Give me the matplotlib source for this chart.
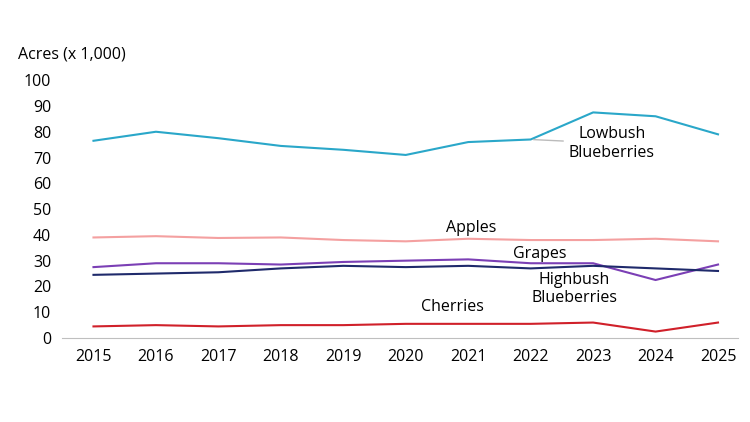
import matplotlib
matplotlib.use('Agg')
import matplotlib.pyplot as plt

years = list(range(2015, 2026))
lowbush = [76.5, 80, 77.5, 74.5, 73, 71, 76, 77, 87.5, 86, 79]
apples = [39, 39.5, 38.8, 39, 38, 37.5, 38.5, 38, 38, 38.5, 37.5]
grapes = [27.5, 29, 29, 28.5, 29.5, 30, 30.5, 29, 29, 22.5, 28.5]
highbush = [24.5, 25, 25.5, 27, 28, 27.5, 28, 27, 28, 27, 26]
cherries = [4.5, 5, 4.5, 5, 5, 5.5, 5.5, 5.5, 6, 2.5, 6]

plt.rcParams['font.family'] = ['Open Sans', 'DejaVu Sans']
fig = plt.figure(figsize=(7.5, 4.22), dpi=100)
ax = fig.add_axes([0.083, 0.199, 0.901, 0.611])

ax.plot(years, lowbush, color='#2AA7C9', lw=1.5)
ax.plot(years, apples, color='#F4A0A0', lw=1.5)
ax.plot(years, grapes, color='#7B3FB5', lw=1.5)
ax.plot(years, highbush, color='#1F2A6B', lw=1.5)
ax.plot(years, cherries, color='#D0202A', lw=1.5)

fs = 11.5
ax.annotate('Lowbush\nBlueberries', xy=(2022, 77), xytext=(2023.3, 75.5),
            ha='center', va='center', fontsize=fs,
            arrowprops=dict(arrowstyle='-', color='#BBBBBB', lw=1))
ax.text(2021.05, 42.5, 'Apples', ha='center', va='center', fontsize=fs)
ax.text(2022.15, 32.5, 'Grapes', ha='center', va='center', fontsize=fs)
ax.text(2022.7, 19, 'Highbush\nBlueberries', ha='center', va='center', fontsize=fs)
ax.text(2020.75, 12, 'Cherries', ha='center', va='center', fontsize=fs)

ax.set_xlim(2014.5, 2025.32)
ax.set_ylim(0, 100)
ax.set_yticks(range(0, 101, 10))
ax.set_xticks(years)
ax.tick_params(axis='both', length=0, labelsize=fs, pad=8)
for s in ['top', 'right', 'left']:
    ax.spines[s].set_visible(False)
ax.spines['bottom'].set_color('#BFBFBF')
fig.text(0.024, 0.87, 'Acres (x 1,000)', fontsize=fs, va='center')

fig.savefig('out.png', dpi=100)
